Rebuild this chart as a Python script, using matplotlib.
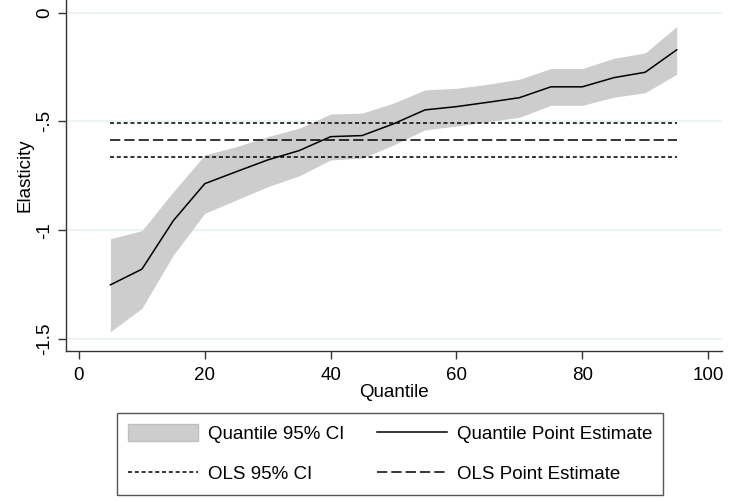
import matplotlib
matplotlib.use("Agg")
import matplotlib.pyplot as plt
from matplotlib.patches import Patch
from matplotlib.lines import Line2D

plt.rcParams["font.family"] = ["Liberation Sans", "DejaVu Sans"]
plt.rcParams["lines.scale_dashes"] = False

# Quantile regression estimates
quantiles = [5, 10, 15, 20, 25, 30, 35, 40, 45, 50, 55, 60, 65, 70, 75, 80, 85, 90, 95]
point_est = [-1.251, -1.179, -0.956, -0.786, -0.731, -0.677, -0.634, -0.570, -0.565, -0.511,
             -0.447, -0.432, -0.412, -0.391, -0.341, -0.341, -0.299, -0.274, -0.171]
ci_upper = [-1.039, -1.002, -0.823, -0.654, -0.616, -0.570, -0.531, -0.466, -0.462, -0.416,
            -0.355, -0.348, -0.329, -0.306, -0.257, -0.257, -0.210, -0.185, -0.064]
ci_lower = [-1.466, -1.359, -1.114, -0.922, -0.861, -0.800, -0.750, -0.677, -0.669, -0.608,
            -0.539, -0.521, -0.501, -0.481, -0.426, -0.426, -0.389, -0.368, -0.283]

# OLS estimate and its confidence bounds
ols_point = -0.585
ols_upper = -0.508
ols_lower = -0.662

x_ticks = [0, 20, 40, 60, 80, 100]
y_ticks = [0, -0.5, -1, -1.5]
y_tick_labels = ["0", "-.5", "-1", "-1.5"]

W, H = 729, 501
fig = plt.figure(figsize=(W / 100, H / 100), dpi=100)
ax = fig.add_axes([66 / W, 1 - 351 / H, (722 - 66) / W, 351 / H])

fill_color = "#CDCDCD"
dot_style = (0, (2.9, 2.0))
dash_style = (0, (7.4, 2.9))
fs = 13.5

ax.fill_between(quantiles, ci_lower, ci_upper, color=fill_color, linewidth=0, zorder=2)
ax.plot(quantiles, point_est, color="black", linewidth=1.1, zorder=4)

x_span = [quantiles[0], quantiles[-1]]
ax.plot(x_span, [ols_upper] * 2, color="black", linewidth=1.1, linestyle=dot_style, zorder=3)
ax.plot(x_span, [ols_lower] * 2, color="black", linewidth=1.1, linestyle=dot_style, zorder=3)
ax.plot(x_span, [ols_point] * 2, color="black", linewidth=1.1, linestyle=dash_style, zorder=3)

ax.set_xlim(-2.06, 102.2)
ax.set_ylim(-1.555, 0.058)

ax.set_xticks(x_ticks)
ax.set_yticks(y_ticks)
ax.set_yticklabels(y_tick_labels)

for y in y_ticks:
    ax.axhline(y, color="#EAF2F3", linewidth=1.2, zorder=1)

for side in ("top", "right"):
    ax.spines[side].set_visible(False)
for side in ("left", "bottom"):
    ax.spines[side].set_color("#333333")
    ax.spines[side].set_linewidth(1.0)

ax.tick_params(axis="both", colors="#333333", labelcolor="black", labelsize=fs,
               length=5.5, width=1.0, direction="out")
ax.tick_params(axis="x", pad=6)
ax.tick_params(axis="y", pad=4, labelrotation=90)
for lbl in ax.get_yticklabels():
    lbl.set_va("center")

ax.set_xlabel("Quantile", fontsize=fs, labelpad=0)
ax.set_ylabel("Elasticity", fontsize=fs, labelpad=2)

handles = [
    Patch(facecolor=fill_color, edgecolor="#BFBFBF", linewidth=1.0),
    Line2D([], [], color="black", linewidth=1.1, linestyle=dot_style),
    Line2D([], [], color="black", linewidth=1.1),
    Line2D([], [], color="black", linewidth=1.1, linestyle=dash_style),
]
labels = ["Quantile 95% CI", "OLS 95% CI", "Quantile Point Estimate", "OLS Point Estimate"]

leg = fig.legend(handles, labels, loc="upper left", bbox_to_anchor=(117 / W, 1 - 413 / H),
                 ncol=2, fontsize=fs, frameon=True, fancybox=False, borderaxespad=0,
                 handlelength=3.7, handleheight=1.0, handletextpad=0.55,
                 columnspacing=1.75, borderpad=0.6, labelspacing=1.15)
frame = leg.get_frame()
frame.set_edgecolor("#555555")
frame.set_linewidth(1.0)
frame.set_alpha(1.0)

fig.savefig("out.png", dpi=100)
